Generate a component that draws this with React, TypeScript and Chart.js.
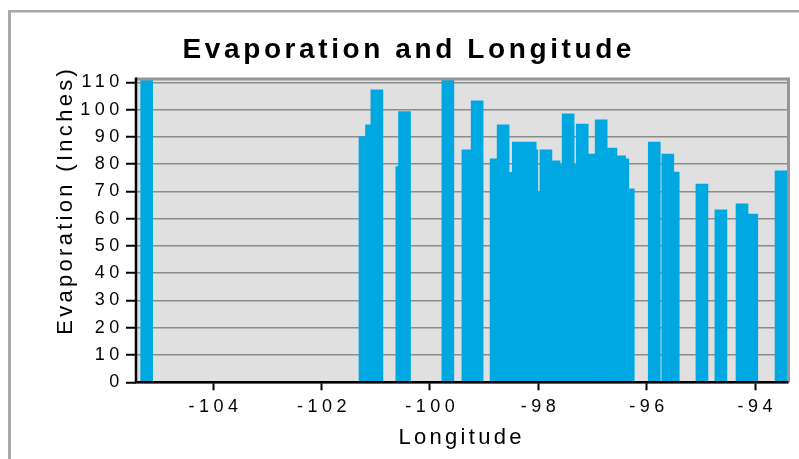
import React, { useEffect, useRef } from 'react';
import { Chart, registerables } from 'chart.js';

Chart.register(...registerables);

// Longitude (degrees) of each station
const longitudes = [
  -105.23, -101.2, -101.08, -100.98, -100.52, -100.47, -99.67, -99.3, -99.13,
  -98.78, -98.65, -98.58, -98.37, -98.15, -98.12, -98.08, -97.86, -97.71,
  -97.67, -97.45, -97.42, -97.19, -97.14, -97.06, -96.84, -96.66, -96.5,
  -96.44, -96.34, -95.86, -95.61, -95.51, -94.98, -94.63, -94.24, -94.06,
  -93.52,
];

// Evaporation (inches) at each station
const evaporation = [
  114, 90.1, 94.4, 107.2, 79.1, 99.3, 112, 85.2, 103.2,
  81.9, 94.4, 77.0, 88.1, 88.1, 85.2, 69.6, 85.2, 81.2,
  79.7, 98.4, 79.7, 94.7, 72.4, 83.7, 96.2, 85.9, 83.0,
  81.9, 70.9, 88.1, 83.7, 77.1, 72.7, 63.2, 65.4, 61.7,
  77.5,
];

const xTickValues = [-104, -102, -100, -98, -96, -94];
const yTickValues = [0, 10, 20, 30, 40, 50, 60, 70, 80, 90, 100, 110];

const chartTitle = 'Evaporation and Longitude';
const xTitle = 'Longitude';
const yTitle = 'Evaporation (Inches)';

const FONT = '"Liberation Sans", Arial, Helvetica, sans-serif';
const TICK_SPACING = 4.5;

export default function App() {
  const ref = useRef<HTMLCanvasElement>(null);

  useEffect(() => {
    const canvas = ref.current;
    if (!canvas) return;

    const decor = {
      id: 'decor',
      beforeDraw(chart: any) {
        const { ctx, chartArea: a } = chart;
        ctx.save();
        ctx.fillStyle = '#a9a9a9';
        ctx.fillRect(8, 10, 800, 2.5);
        ctx.fillRect(8, 10, 3, 460);
        ctx.fillStyle = '#e0e0e0';
        ctx.fillRect(a.left, a.top, a.right - a.left, a.bottom - a.top);
        ctx.restore();
        ctx.letterSpacing = `${TICK_SPACING}px`;
      },
      afterDatasetsDraw(chart: any) {
        const { ctx, chartArea: a } = chart;
        ctx.save();
        ctx.strokeStyle = '#969696';
        ctx.lineWidth = 3;
        ctx.beginPath();
        ctx.moveTo(a.left, a.top);
        ctx.lineTo(a.right, a.top);
        ctx.lineTo(a.right, a.bottom);
        ctx.stroke();
        ctx.strokeStyle = '#000';
        ctx.lineWidth = 2.5;
        ctx.beginPath();
        ctx.moveTo(a.left, a.top - 1.5);
        ctx.lineTo(a.left, a.bottom);
        ctx.lineTo(a.right, a.bottom);
        ctx.stroke();
        ctx.restore();
      },
      afterDraw(chart: any) {
        const { ctx } = chart;
        ctx.save();
        ctx.fillStyle = '#000';
        ctx.textBaseline = 'alphabetic';
        ctx.textAlign = 'center';
        // main title
        ctx.letterSpacing = '3.6px';
        ctx.font = `bold 28px ${FONT}`;
        ctx.fillText(chartTitle, 407 + 1.8, 58.3);
        // x title
        ctx.letterSpacing = '3.3px';
        ctx.font = `22px ${FONT}`;
        ctx.fillText(xTitle, 460 + 1.65, 443.5);
        // y title
        ctx.translate(72, 202 - 1.65);
        ctx.rotate(-Math.PI / 2);
        ctx.fillText(yTitle, 0, 0);
        ctx.restore();
      },
    };

    const chart = new Chart(canvas, {
      type: 'bar',
      data: {
        datasets: [
          {
            data: longitudes.map((x, i) => ({ x, y: evaporation[i] })),
            backgroundColor: '#00a8e2',
            borderWidth: 0,
            barThickness: 12,
            grouped: false,
          } as any,
        ],
      },
      options: {
        responsive: false,
        animation: false,
        devicePixelRatio: 1,
        layout: { padding: { left: 0, right: 10.5, top: 79, bottom: 459 - 382.3 - 50 } },
        plugins: {
          legend: { display: false },
          title: { display: false },
          tooltip: { enabled: false },
        },
        scales: {
          x: {
            type: 'linear',
            position: 'bottom',
            offset: false,
            min: -105.427,
            max: -93.382,
            afterBuildTicks: (s: any) => {
              s.ticks = xTickValues.map((v) => ({ value: v }));
            },
            afterFit: (s: any) => {
              s.height = 50;
            },
            grid: {
              display: true,
              offset: false,
              drawOnChartArea: false,
              drawTicks: true,
              tickLength: 8,
              tickWidth: 2,
              tickColor: '#000',
            },
            border: { display: false },
            ticks: {
              color: '#000',
              font: { family: FONT, size: 18 },
              padding: 6.4,
              labelOffset: TICK_SPACING / 2,
              maxRotation: 0,
              autoSkip: false,
              callback: (v: any) => String(v),
            },
          },
          y: {
            type: 'linear',
            min: 0,
            max: 111.2,
            afterBuildTicks: (s: any) => {
              s.ticks = yTickValues.map((v) => ({ value: v }));
            },
            afterFit: (s: any) => {
              s.width = 136;
            },
            grid: {
              color: '#8c8c8c',
              lineWidth: 1.5,
              drawTicks: true,
              tickLength: 10,
              tickWidth: 2,
              tickColor: '#000',
            },
            border: { display: false },
            ticks: {
              color: '#000',
              font: { family: FONT, size: 18 },
              padding: 2.2,
              autoSkip: false,
              callback: (v: any) => String(v),
            },
          },
        },
      } as any,
      plugins: [decor],
    });

    return () => chart.destroy();
  }, []);

  return (
    <div style={{ position: 'absolute', left: 0, top: 0, width: 799, height: 459 }}>
      <canvas ref={ref} width={799} height={459} />
    </div>
  );
}
